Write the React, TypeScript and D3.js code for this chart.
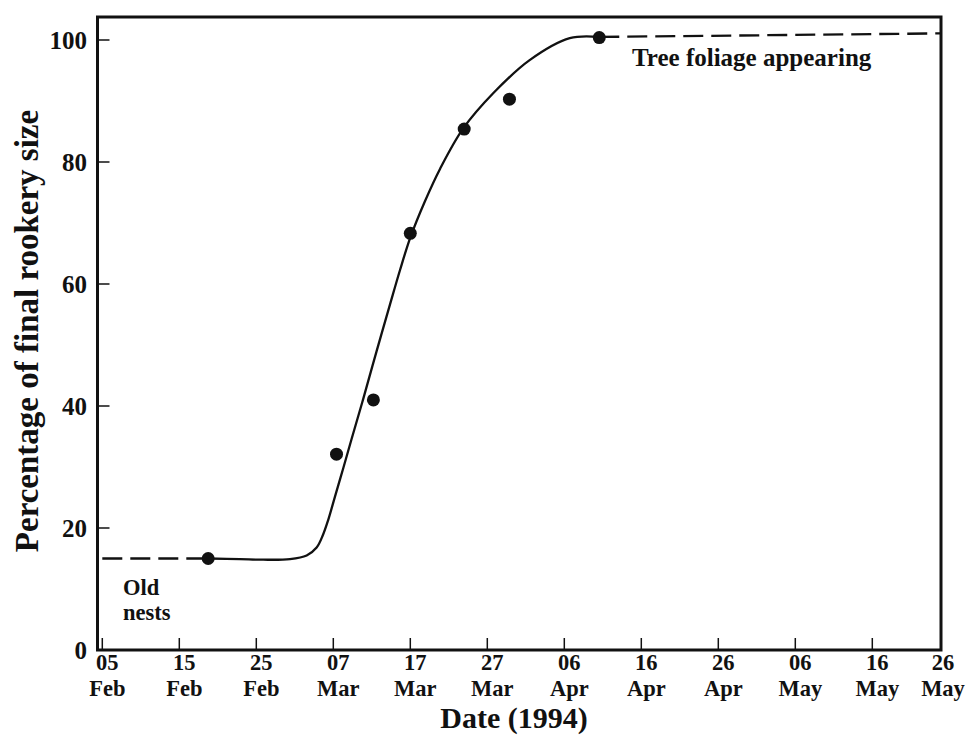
import React from "react";
import * as d3 from "d3";

// observed nest counts (% of final rookery size)
const pointDates = [
  "1994-02-18T18:00",
  "1994-03-07T10:00",
  "1994-03-12T05:00",
  "1994-03-17T00:00",
  "1994-03-24T00:00",
  "1994-03-29T21:00",
  "1994-04-10T13:00",
];
const pointValues = [15.0, 32.1, 41.0, 68.3, 85.4, 90.3, 100.4];

// hand-fitted growth curve (solid part)
const curveDates = [
  "1994-02-18T18:00",
  "1994-02-22T21:00",
  "1994-02-25T21:00",
  "1994-03-01T09:00",
  "1994-03-03T13:00",
  "1994-03-04T20:00",
  "1994-03-05T16:00",
  "1994-03-06T08:00",
  "1994-03-07T05:00",
  "1994-03-08T07:00",
  "1994-03-09T09:00",
  "1994-03-10T22:00",
  "1994-03-12T15:00",
  "1994-03-14T09:00",
  "1994-03-15T16:00",
  "1994-03-17T00:00",
  "1994-03-18T22:00",
  "1994-03-20T21:00",
  "1994-03-23T21:00",
  "1994-03-27T19:00",
  "1994-04-01T12:00",
  "1994-04-06T17:00",
  "1994-04-10T13:00",
];
const curveValues = [
  15.0, 14.9, 14.8, 14.9, 15.5, 16.8, 18.9, 21.3, 25.1, 29.8, 34.6, 41.3,
  49.0, 56.7, 62.3, 67.6, 73.6, 78.9, 85.5, 91.3, 96.7, 100.3, 100.5,
];

// dashed extrapolations
const oldNestDates = ["1994-02-05", "1994-02-18T18:00"];
const oldNestValues = [15.0, 15.0];
const foliageDates = ["1994-04-10T13:00", "1994-05-26"];
const foliageValues = [100.5, 101.1];

const tickDates = [
  "1994-02-05", "1994-02-15", "1994-02-25", "1994-03-07", "1994-03-17",
  "1994-03-27", "1994-04-06", "1994-04-16", "1994-04-26", "1994-05-06",
  "1994-05-16", "1994-05-26",
];
const tickDays = ["05", "15", "25", "07", "17", "27", "06", "16", "26", "06", "16", "26"];
const tickMonths = ["Feb", "Feb", "Feb", "Mar", "Mar", "Mar", "Apr", "Apr", "Apr", "May", "May", "May"];
const yTicks = [0, 20, 40, 60, 80, 100];

const W = 969;
const H = 735;
const frame = { left: 97.5, right: 941, top: 17, bottom: 650 };
const font = "'Liberation Serif', 'Times New Roman', serif";
const ink = "#111";

const parse = (s: string) => d3.isoParse(s) as Date;

export default function App() {
  const x = d3
    .scaleTime()
    .domain([parse("1994-02-05"), parse("1994-05-26")])
    .range([102.3, 949.3]);
  const y = d3.scaleLinear().domain([0, 100]).range([650, 40]);

  const line = d3
    .line<[string, number]>()
    .x((d) => x(parse(d[0])))
    .y((d) => y(d[1]))
    .curve(d3.curveCatmullRom.alpha(0.5));

  const zip = (ds: string[], vs: number[]) => ds.map((d, i) => [d, vs[i]] as [string, number]);

  return (
    <svg width={W} height={H} style={{ position: "absolute", left: 0, top: 0, background: "#fff" }}>
      <defs>
        <clipPath id="plot">
          <rect x={frame.left} y={frame.top} width={frame.right - frame.left} height={frame.bottom - frame.top} />
        </clipPath>
      </defs>

      <g clipPath="url(#plot)" fill="none" stroke={ink} strokeWidth={2.3}>
        <path d={line(zip(oldNestDates, oldNestValues)) || ""} strokeDasharray="20,8" />
        <path d={line(zip(foliageDates, foliageValues)) || ""} strokeDasharray="20,8" />
        <path d={line(zip(curveDates, curveValues)) || ""} />
      </g>

      {pointDates.map((d, i) => (
        <circle key={d} cx={x(parse(d))} cy={y(pointValues[i])} r={6.5} fill={ink} />
      ))}

      {/* y ticks */}
      {yTicks.map((t) => (
        <g key={t}>
          {t > 0 && <line x1={frame.left} x2={frame.left + 12} y1={y(t)} y2={y(t)} stroke={ink} strokeWidth={1.5} />}
          <text x={87} y={y(t)} dy="0.35em" textAnchor="end" fontFamily={font} fontWeight="bold" fontSize={25} fill={ink}>
            {t}
          </text>
        </g>
      ))}

      {/* x ticks */}
      {tickDates.map((d, i) => {
        const px = x(parse(d));
        const lx = Math.min(px + 5, 943);
        return (
          <g key={d}>
            {px > frame.left + 2 && px < frame.right - 2 && (
              <line x1={px} x2={px} y1={frame.bottom} y2={frame.bottom - 12} stroke={ink} strokeWidth={1.5} />
            )}
            <text x={lx} y={670} textAnchor="middle" fontFamily={font} fontWeight="bold" fontSize={22.5} fill={ink}>
              {tickDays[i]}
            </text>
            <text x={lx} y={695.5} textAnchor="middle" fontFamily={font} fontWeight="bold" fontSize={22.5} fill={ink}>
              {tickMonths[i]}
            </text>
          </g>
        );
      })}

      <rect
        x={frame.left}
        y={frame.top}
        width={frame.right - frame.left}
        height={frame.bottom - frame.top}
        fill="none"
        stroke={ink}
        strokeWidth={3}
      />

      <text x={123} y={595} fontFamily={font} fontWeight="bold" fontSize={22.5} fill={ink}>Old</text>
      <text x={123} y={620} fontFamily={font} fontWeight="bold" fontSize={22.5} fill={ink}>nests</text>
      <text x={632} y={66} fontFamily={font} fontWeight="bold" fontSize={25} fill={ink}>Tree foliage appearing</text>

      <text x={514} y={728} textAnchor="middle" fontFamily={font} fontWeight="bold" fontSize={30} fill={ink}>
        Date (1994)
      </text>
      <text
        transform="translate(38,331) rotate(-90)"
        textAnchor="middle"
        fontFamily={font}
        fontWeight="bold"
        fontSize={33}
        fill={ink}
      >
        Percentage of final rookery size
      </text>
    </svg>
  );
}
